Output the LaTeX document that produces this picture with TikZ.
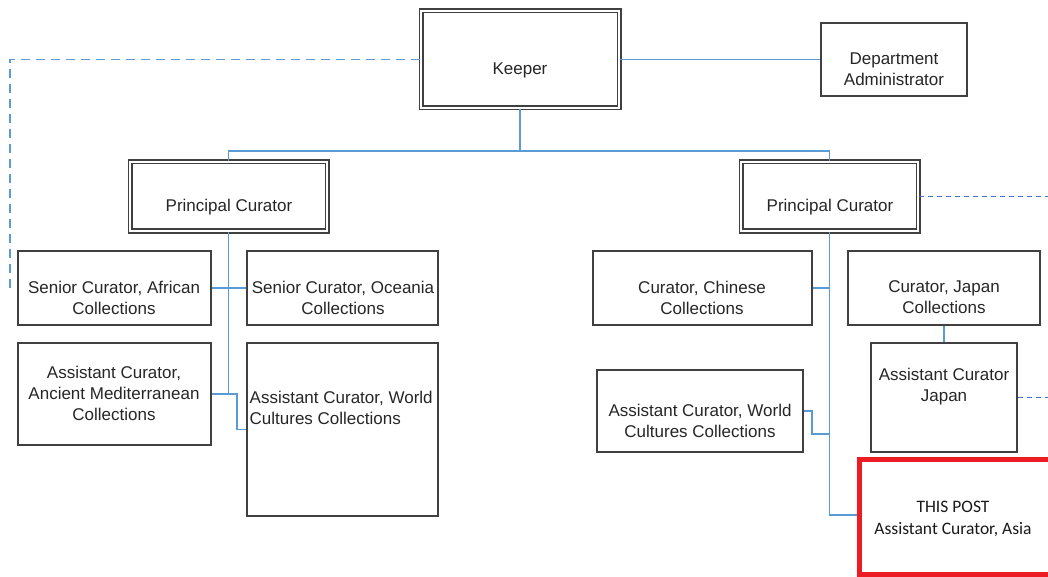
\documentclass[tikz,border=0pt]{standalone}
\usepackage{fontspec}
\setmainfont{Liberation Sans}
\newfontfamily\calib{Carlito}
\definecolor{conblue}{RGB}{91,155,213}
\definecolor{dashblue}{RGB}{68,114,196}
\definecolor{boxgray}{RGB}{64,64,64}
\definecolor{postred}{RGB}{237,28,36}
\begin{document}
\begin{tikzpicture}[x=1pt,y=-1pt,
  box/.style={draw=boxgray, line width=1.7pt, inner sep=0pt, fill=white},
  dbox/.style={draw=boxgray, line width=1.5pt, double=white, double distance=2pt, inner sep=0pt},
  postbox/.style={draw=postred, line width=5pt, inner sep=0pt},
  txt/.style={font=\fontsize{17}{21}\selectfont, align=center, inner sep=0pt, text=black!85},
  conn/.style={draw=conblue, line width=1.8pt},
  dashl/.style={draw=conblue, line width=1.8pt, dash pattern=on 9pt off 6pt},
  dashr/.style={draw=dashblue, line width=1.5pt, dash pattern=on 5pt off 4pt}]
\useasboundingbox (0,0) rectangle (1048,577);
\clip (0,0) rectangle (1048,577);
\fill[white] (0,0) rectangle (1048,577);

% boxes
\node[dbox, minimum width=198pt, minimum height=97pt] (keeper) at (520,59.5) {};
\node[box, minimum width=146pt, minimum height=73pt] (admin) at (894,59.5) {};
\node[dbox, minimum width=197pt, minimum height=69pt] (pcl) at (228.5,196.5) {};
\node[dbox, minimum width=177pt, minimum height=69pt] (pcr) at (829.5,196.5) {};
\node[box, minimum width=193pt, minimum height=74pt] (afr) at (114.5,288) {};
\node[box, minimum width=191pt, minimum height=74pt] (oce) at (342.5,288) {};
\node[box, minimum width=193pt, minimum height=102pt] (anc) at (114.5,394) {};
\node[box, minimum width=191pt, minimum height=173pt] (wcl) at (342.5,429.5) {};
\node[box, minimum width=219pt, minimum height=74pt] (chi) at (702.5,288) {};
\node[box, minimum width=192pt, minimum height=74pt] (jap) at (944,288) {};
\node[box, minimum width=146pt, minimum height=109pt] (acj) at (944,397.5) {};
\node[box, minimum width=206pt, minimum height=82pt] (wcr) at (700,411) {};
\node[postbox, minimum width=200.5pt, minimum height=115pt] (post) at (959.75,517) {};

% texts
\node[txt] (keeper-t) at (520,70) {Keeper};
\node[txt] (admin-t) at (894,69.5) {Department\\Administrator};
\node[txt] (pcl-t) at (229,207) {Principal Curator};
\node[txt] (pcr-t) at (830,207) {Principal Curator};
\node[txt] (afr-t) at (114,297.5) {Senior Curator, African\\Collections};
\node[txt] (oce-t) at (343,297.5) {Senior Curator, Oceania\\Collections};
\node[txt] (anc-t) at (114,393) {Assistant Curator,\\Ancient Mediterranean\\Collections};
\node[txt, align=left, anchor=west] (wcl-t) at (249.5,408) {Assistant Curator, World\\Cultures Collections};
\node[txt] (chi-t) at (702,297.5) {Curator, Chinese\\Collections};
\node[txt] (jap-t) at (944,297.5) {Curator, Japan\\Collections};
\node[txt] (acj-t) at (944,387) {Assistant Curator\\Japan};
\node[txt] (wcr-t) at (700,420.5) {Assistant Curator, World\\Cultures Collections};
\node[txt, font=\calib\fontsize{17.5}{22}\selectfont, text=black!90] (post-t) at (953,519) {THIS POST\\Assistant Curator, Asia};

% connectors
\coordinate (bus) at (520,151);
\coordinate (dl) at (10,287);
\coordinate (dle) at (14,287);
\coordinate (lb) at (228.5,394);
\coordinate (lk) at (237,394);
\coordinate (rb) at (829.5,515);
\coordinate (rk) at (812,434);
\coordinate (er) at (1048,0);

\draw[conn] (keeper.east) -- (admin.west);
\draw[dashl] (keeper.west) -| (dl) -- (dle);
\draw[conn] (keeper.south) -- (bus);
\draw[conn] (pcl.north) |- (bus) -| (pcr.north);
\draw[dashr] (pcr.east) -- (pcr.east -| er);

\draw[conn] (pcl.south) -- (lb);
\draw[conn] (afr.east) -- (oce.west);
\draw[conn] (anc.east) -- (lb) -- (lk) |- (wcl.west);

\draw[conn] (pcr.south) -- (rb) -- (rb -| post.west);
\draw[conn] (chi.east) -- (chi.east -| pcr.south);
\draw[conn] (wcr.east) -| (rk) -- (rk -| pcr.south);
\draw[conn] (jap.south) -- (acj.north);
\draw[dashr] (acj.east) -- (acj.east -| er);
\end{tikzpicture}
\end{document}
